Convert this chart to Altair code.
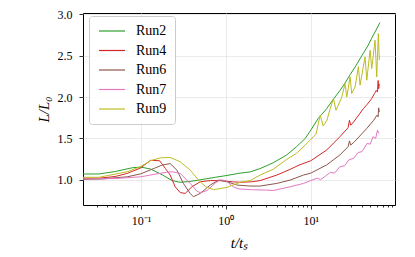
import altair as alt
import pandas as pd

runs = ["Run2", "Run4", "Run6", "Run7", "Run9"]
colors = ["#2ca02c", "#d62728", "#8c564b", "#e377c2", "#bcbd22"]

t2 = [0.0208, 0.032, 0.05, 0.079, 0.10, 0.13, 0.178, 0.233, 0.29, 0.38, 0.54, 0.75, 1.0, 1.47, 1.93, 2.53,
      3.6, 5.2, 6.8, 8.6, 10.0, 12.2, 15.4, 18.3, 22.1, 25.3, 29.0, 34.0, 41.0, 47.0, 52.0, 58.0, 65.0]
L2 = [1.07, 1.07, 1.10, 1.145, 1.153, 1.13, 1.06, 0.99, 0.969, 0.98, 1.005, 1.03, 1.05, 1.08, 1.095, 1.135,
      1.205, 1.30, 1.40, 1.50, 1.60, 1.74, 1.86, 1.97, 2.08, 2.17, 2.27, 2.38, 2.52, 2.62, 2.71, 2.80, 2.90]

t4 = [0.0208, 0.033, 0.05, 0.069, 0.098, 0.13, 0.166, 0.193, 0.221, 0.253, 0.29, 0.332, 0.398, 0.499, 0.654,
      0.857, 1.2, 1.47, 2.0, 2.53, 3.98, 5.7, 7.3, 10.0, 15.4, 22.0, 27.5, 28.5, 29.5, 32.0, 41.6, 46.0, 52.0,
      56.0, 59.0, 61.0, 62.0, 63.0, 64.0]
L4 = [1.02, 1.02, 1.04, 1.077, 1.14, 1.235, 1.23, 1.14, 1.057, 0.915, 0.845, 0.835, 0.915, 0.976, 0.99,
      0.99, 0.975, 0.97, 0.975, 0.99, 1.057, 1.126, 1.178, 1.23, 1.36, 1.52, 1.63, 1.72, 1.66, 1.70, 1.86, 1.91, 1.98,
      2.04, 2.08, 2.06, 2.20, 2.10, 2.16]

t6 = [0.0208, 0.035, 0.069, 0.098, 0.128, 0.178, 0.221, 0.265, 0.316, 0.38, 0.415, 0.499, 0.654, 0.82, 1.03,
      1.35, 1.93, 2.53, 3.98, 5.7, 8.2, 10.0, 15.4, 22.0, 27.5, 28.5, 29.5, 32.0, 45.6, 55.0, 60.0, 62.0, 63.0, 64.0]
L6 = [1.005, 1.01, 1.036, 1.07, 1.117, 1.178, 1.195, 1.117, 0.956, 0.835, 0.795, 0.835, 0.936, 0.996, 0.976,
      0.936, 0.924, 0.924, 0.956, 0.996, 1.057, 1.08, 1.18, 1.30, 1.40, 1.47, 1.42, 1.45, 1.62, 1.72, 1.78, 1.76, 1.87, 1.82]

t7 = [0.0208, 0.05, 0.10, 0.15, 0.20, 0.233, 0.29, 0.347, 0.415, 0.45, 0.50, 0.60, 0.75, 0.857, 1.0, 1.2,
      1.4, 2.0, 3.0, 3.6, 5.7, 8.2, 10.0, 12.0, 13.0, 15.4, 17.0, 19.0, 22.0, 25.0, 28.0, 32.0, 36.0, 40.0,
      46.0, 50.0, 54.0, 58.0, 61.0, 63.0]
L7 = [1.01, 1.015, 1.036, 1.07, 1.09, 1.097, 1.077, 0.996, 0.915, 0.867, 0.843, 0.87, 0.96, 1.0, 0.99, 0.92,
      0.89, 0.88, 0.875, 0.87, 0.915, 0.956, 0.99, 1.02, 1.00, 1.056, 1.09, 1.08, 1.157, 1.17, 1.24, 1.26, 1.33, 1.34,
      1.44, 1.43, 1.52, 1.50, 1.60, 1.56]

t9 = [0.0208, 0.032, 0.069, 0.098, 0.13, 0.17, 0.22, 0.29, 0.38, 0.476, 0.58, 0.72, 1.03, 1.47, 1.93, 2.53,
      3.6, 5.2, 6.8, 8.6, 10.0, 11.5, 12.9, 14.0, 15.5, 16.9, 18.5, 19.8, 23.2, 25.3, 26.5, 29.0, 30.3, 33.2,
      36.3, 38.0, 43.5, 45.6, 49.9, 52.2, 57.1, 59.7, 62.4, 64.1]
L9 = [1.03, 1.03, 1.097, 1.157, 1.23, 1.265, 1.27, 1.218, 1.117, 0.996, 0.915, 0.88, 0.908, 0.97, 0.99, 1.057,
      1.126, 1.246, 1.32, 1.42, 1.49, 1.55, 1.78, 1.65, 1.72, 1.86, 1.98, 1.84, 2.0, 2.164, 2.0, 2.244, 2.043, 2.123,
      2.365, 2.144, 2.486, 2.204, 2.566, 2.345, 2.687, 2.244, 2.768, 2.446]

series = [(runs[0], t2, L2), (runs[1], t4, L4), (runs[2], t6, L6), (runs[3], t7, L7), (runs[4], t9, L9)]
rows = []
for name, ts, ls in series:
    for i, (tv, lv) in enumerate(zip(ts, ls)):
        rows.append({"run": name, "t": tv, "L": lv, "i": i})
df = pd.DataFrame(rows)

x_ticks = [0.03, 0.04, 0.05, 0.06, 0.07, 0.08, 0.09, 0.1, 0.2, 0.3, 0.4, 0.5, 0.6, 0.7, 0.8, 0.9, 1,
           2, 3, 4, 5, 6, 7, 8, 9, 10, 20, 30, 40, 50, 60, 70, 80, 90]
y_ticks = [1.0, 1.5, 2.0, 2.5, 3.0]

FONT = "Liberation Serif"
major_test = "datum.value == 0.1 || datum.value == 1 || datum.value == 10"

chart = alt.Chart(df).mark_line(strokeWidth=1.0, clip=True).encode(
    x=alt.X("t:Q",
            scale=alt.Scale(type="log", domain=[0.0208, 98], nice=False),
            axis=alt.Axis(values=x_ticks, title="t/tₛ", titleFontStyle="italic",
                          labelExpr="datum.value == 0.1 ? '10⁻¹' : datum.value == 1 ? '10⁰' : datum.value == 10 ? '10¹' : ''",
                          labelOverlap=False, labelFlush=False,
                          tickSize={"condition": {"test": major_test, "value": 4}, "value": 2},
                          gridOpacity={"condition": {"test": major_test, "value": 1}, "value": 0},
                          labelPadding=6, titlePadding=9)),
    y=alt.Y("L:Q",
            scale=alt.Scale(domain=[0.695, 3.016], nice=False, zero=False),
            axis=alt.Axis(values=y_ticks, format=".1f", title="L/L₀", titleFontStyle="italic",
                          tickSize=4, labelPadding=7, titlePadding=6)),
    color=alt.Color("run:N", scale=alt.Scale(domain=runs, range=colors),
                    legend=alt.Legend(title=None, orient="none", legendX=6, legendY=3,
                                      symbolType="M-2.6,0H2.6", symbolSize=100, symbolStrokeWidth=1.2,
                                      symbolFillColor="transparent", symbolOffset=8, symbolOpacity=1,
                                      labelFont=FONT, labelFontSize=14, labelOffset=17,
                                      padding=8, rowPadding=5.5, labelLimit=0,
                                      fillColor="rgba(255,255,255,0.85)", strokeColor="#cccccc",
                                      cornerRadius=3)),
    order="i:Q",
).properties(
    width=312, height=192,
    autosize=alt.AutoSizeParams(type="none"),
    padding={"left": 75, "top": 5, "right": 10, "bottom": 50},
).configure(
    font=FONT
).configure_view(
    stroke="black", strokeWidth=1
).configure_axis(
    domain=False, tickColor="black", tickWidth=0.8,
    gridColor="#e6e6e6", gridWidth=0.8,
    labelFont=FONT, labelFontSize=12, labelColor="black",
    titleFont=FONT, titleFontSize=15, titleFontWeight="normal", titleColor="black",
).configure_legend(
    labelFont=FONT, labelColor="black"
)

chart.save("out.html", embed_options={"renderer": "svg", "actions": False})
